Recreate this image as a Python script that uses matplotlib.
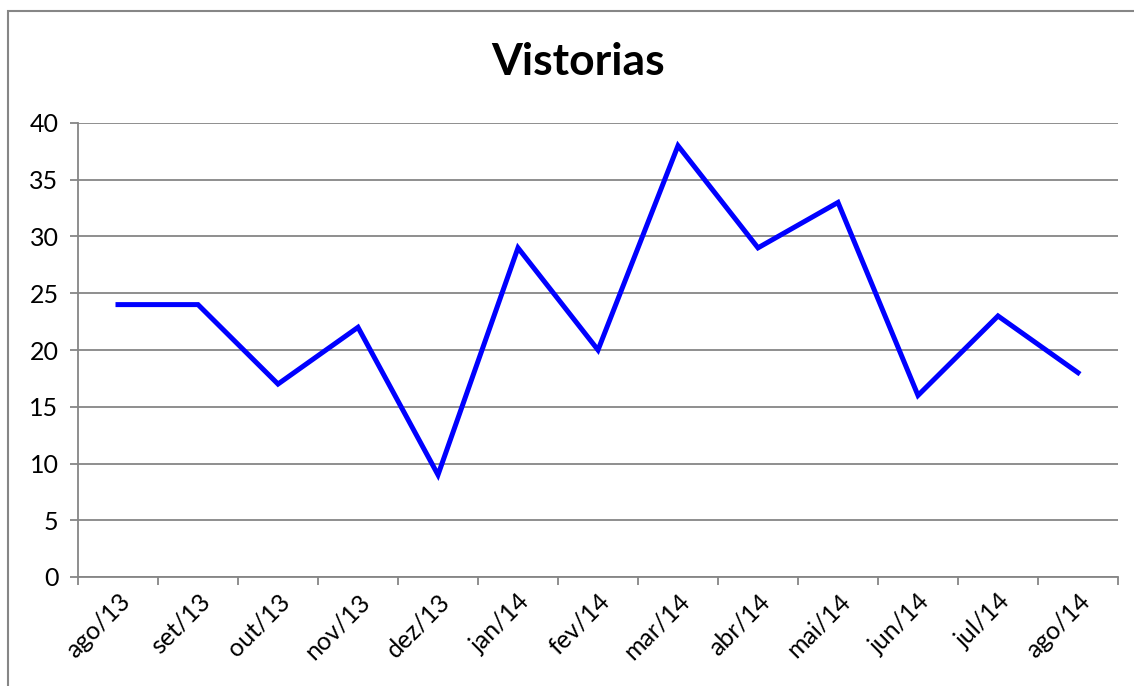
import matplotlib
matplotlib.use("Agg")
import matplotlib.pyplot as plt
from matplotlib.patches import Rectangle

months = ["ago/13", "set/13", "out/13", "nov/13", "dez/13", "jan/14", "fev/14",
          "mar/14", "abr/14", "mai/14", "jun/14", "jul/14", "ago/14"]
vistorias = [24, 24, 17, 22, 9, 29, 20, 38, 29, 33, 16, 23, 18]
y_ticks = [0, 5, 10, 15, 20, 25, 30, 35, 40]

plt.rcParams['font.family'] = ['Lato', 'DejaVu Sans']
grey = '#868686'

fig = plt.figure(figsize=(11.34, 6.86), dpi=100)
ax = fig.add_axes([78 / 1134, 109 / 686, 1040 / 1134, 454 / 686])

# outer chart border (only top/left visible in the original crop)
fig.patches.append(Rectangle((8 / 1134, -0.1), 1.2, (686 - 11) / 686 + 0.1,
                             transform=fig.transFigure, fill=False,
                             edgecolor=grey, linewidth=1.5))

x = list(range(len(months)))
ax.plot(x, vistorias, color='#0000FF', linewidth=3.6, solid_joinstyle='miter')

ax.set_xlim(-0.5, len(months) - 0.5)
ax.set_ylim(0, 40)
ax.set_yticks(y_ticks)
ax.yaxis.grid(True, color=grey, linewidth=1.3)
ax.set_axisbelow(True)

# category boundaries get the tick marks, labels sit in between
ax.set_xticks([i - 0.5 for i in range(len(months) + 1)])
ax.set_xticklabels([])
ax.set_xticks(x, minor=True)
ax.set_xticklabels(months, minor=True, rotation=45, ha='right', va='top',
                   rotation_mode='anchor', fontsize=18)
ax.tick_params(axis='x', which='minor', length=0, pad=9)
ax.tick_params(axis='x', which='major', length=6, width=1.3, color=grey)
ax.tick_params(axis='y', length=6, width=1.3, color=grey, labelsize=18, pad=8)

for side in ['top', 'right']:
    ax.spines[side].set_visible(False)
for side in ['left', 'bottom']:
    ax.spines[side].set_color(grey)
    ax.spines[side].set_linewidth(1.3)

fig.text(578 / 1134, 1 - 62 / 686, "Vistorias", ha='center', va='center',
         fontsize=32, fontweight='bold')

fig.savefig("out.png", dpi=100)
